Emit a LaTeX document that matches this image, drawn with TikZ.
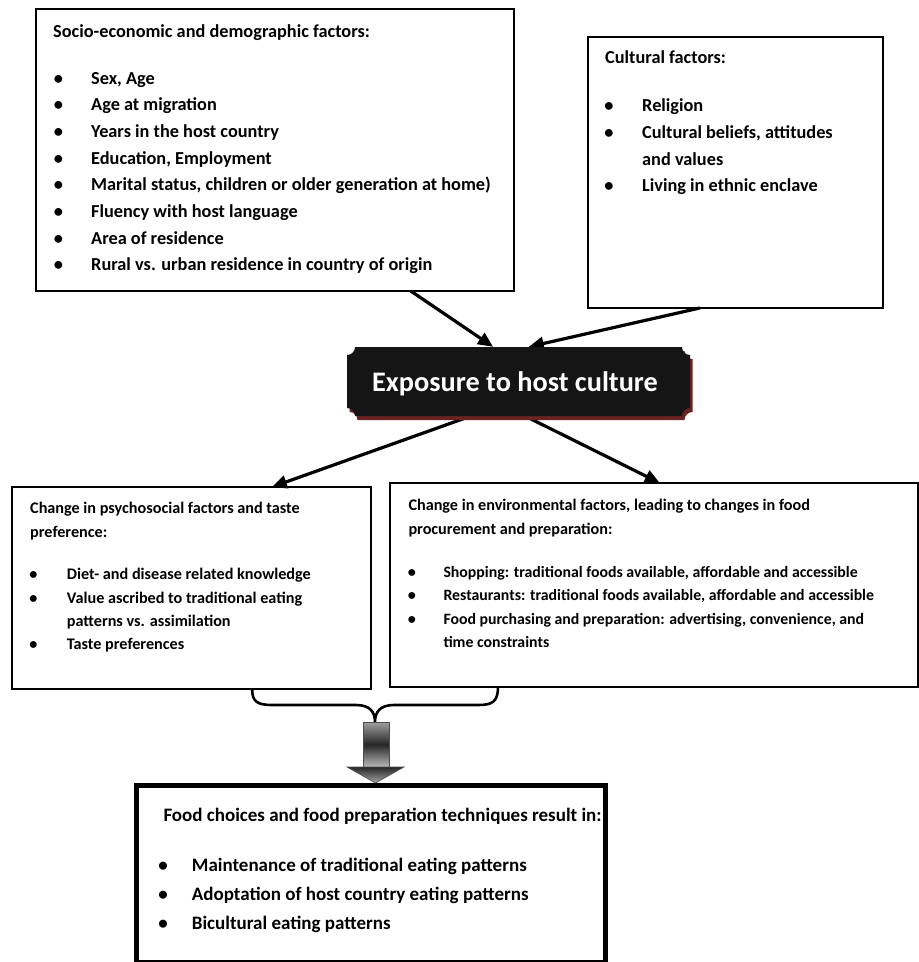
\documentclass[tikz,border=0pt]{standalone}
\usepackage{fontspec}
\setmainfont{Carlito}
\usetikzlibrary{arrows.meta,calc}
\definecolor{plaque}{HTML}{151515}
\definecolor{plaqueshadow}{HTML}{6A2222}
\begin{document}
\begin{tikzpicture}[x=1pt,y=-1pt,
  box/.style={draw=black, line width=2.6pt, inner sep=0pt, outer sep=0pt, anchor=north west},
  tA/.style={anchor=base west, inner sep=0pt, font=\fontsize{18.3}{22}\selectfont\bfseries},
  tC/.style={anchor=base west, inner sep=0pt, font=\fontsize{16.2}{20}\selectfont\bfseries},
  tD/.style={anchor=base west, inner sep=0pt, font=\fontsize{15.8}{20}\selectfont\bfseries},
  tE/.style={anchor=base west, inner sep=0pt, font=\fontsize{19}{23}\selectfont\bfseries},
  bA/.style={anchor=base, inner sep=0pt, font=\fontsize{18.3}{22}\selectfont\bfseries},
  bC/.style={anchor=base, inner sep=0pt, font=\fontsize{16.2}{20}\selectfont\bfseries},
  bE/.style={anchor=base, inner sep=0pt, font=\fontsize{19}{23}\selectfont\bfseries},
  arr/.style={line width=3.2pt, -{Triangle[length=15pt,width=13pt]}},
]
\useasboundingbox (0,0) rectangle (919,962);

% boxes
\node[box, minimum width=478pt, minimum height=282pt] (socio) at (36,9) {};
\node[box, minimum width=295pt, minimum height=271pt] (cult) at (588,37) {};
\node[box, minimum width=359pt, minimum height=202pt] (psych) at (12,487) {};
\node[box, minimum width=528pt, minimum height=204pt] (envir) at (390,483) {};
\node[box, line width=5pt, minimum width=469pt, minimum height=177pt] (food) at (136,785) {};

% box A text
\node[tA] (atitle) at (53,37) {Socio-economic and demographic factors:};
\foreach \t [count=\i from 0] in {{Sex, Age},{Age at migration},{Years in the host country},{Education, Employment},{Marital status, children or older generation at home)},{Fluency with host language},{Area of residence},{Rural vs. urban residence in country of origin}}{
  \node[bA] (abul\i) at (58.5,84+26.67*\i) {•};
  \node[tA] (aitem\i) at (91,84+26.67*\i) {\t};
}

% box B text
\node[tA] (btitle) at (605,63.3) {Cultural factors:};
\node[bA] (bbul0) at (609,111.7) {•};
\node[tA] (bitem0) at (642,111.7) {Religion};
\node[bA] (bbul1) at (609,138.3) {•};
\node[tA] (bitem1) at (642,138.3) {Cultural beliefs, attitudes};
\node[tA] (bitem1b) at (642,165) {and values};
\node[bA] (bbul2) at (609,191.7) {•};
\node[tA] (bitem2) at (642,191.7) {Living in ethnic enclave};

% box C text
\node[tC] (ctitle) at (30,513.3) {Change in psychosocial factors and taste};
\node[tC] (ctitleb) at (30,537.3) {preference:};
\node[bC] (cbul0) at (33.5,579.3) {•};
\node[tC] (citem0) at (66.7,579.3) {Diet- and disease related knowledge};
\node[bC] (cbul1) at (33.5,603) {•};
\node[tC] (citem1) at (66.7,603) {Value ascribed to traditional eating};
\node[tC] (citem1b) at (66.7,626.3) {patterns vs. assimilation};
\node[bC] (cbul2) at (33.5,649.5) {•};
\node[tC] (citem2) at (66.7,649.5) {Taste preferences};

% box D text
\node[tC] (dtitle) at (408.3,510) {Change in environmental factors, leading to changes in food};
\node[tC] (dtitleb) at (408.3,534.3) {procurement and preparation:};
\node[bC] (dbul0) at (412,577.3) {•};
\node[tD] (ditem0) at (443.3,577.3) {Shopping: traditional foods available, affordable and accessible};
\node[bC] (dbul1) at (412,600.7) {•};
\node[tD] (ditem1) at (443.3,600.7) {Restaurants: traditional foods available, affordable and accessible};
\node[bC] (dbul2) at (412,624) {•};
\node[tD] (ditem2) at (443.3,624) {Food purchasing and preparation: advertising, convenience, and};
\node[tD] (ditem2b) at (443.3,647) {time constraints};

% box E text
\node[tE] (etitle) at (163.3,821.7) {Food choices and food preparation techniques result in:};
\node[bE] (ebul0) at (163,871.7) {•};
\node[tE] (eitem0) at (191.7,871.7) {Maintenance of traditional eating patterns};
\node[bE] (ebul1) at (163,900.5) {•};
\node[tE] (eitem1) at (191.7,900.5) {Adoptation of host country eating patterns};
\node[bE] (ebul2) at (163,929) {•};
\node[tE] (eitem2) at (191.7,929) {Bicultural eating patterns};

% plaque node (shape drawn below)
\node[inner sep=0pt, minimum width=343pt, minimum height=69pt] (expo) at (518.5,381.5) {};

% connectors (drawn before plaque so plaque sits on top)
\draw[arr] ($(socio.south west)!0.784!(socio.south east)$) -- ($(expo.north west)!0.426!(expo.north east)$);
\draw[arr] ($(cult.south west)!0.379!(cult.south east)$) -- ($(expo.north west)!0.53!(expo.north east)$);
\draw[arr] ($(expo.south west)!0.36!(expo.south east)$) -- ($(psych.north west)!0.724!(psych.north east)$);
\draw[arr] ($(expo.south west)!0.52!(expo.south east)$) -- ($(envir.north west)!0.511!(envir.north east)$);

% plaque shape
\def\r{8}
\foreach \dx/\dy/\col in {2.5/4/plaqueshadow, 0/0/plaque}{
\fill[\col, shift={(\dx pt,-\dy pt)}]
  (347+\r,347) -- (690-\r,347)
  .. controls (690-\r,347+0.55*\r) and (690-0.55*\r,347+\r) .. (690,347+\r)
  -- (690,416-\r)
  .. controls (690-0.55*\r,416-\r) and (690-\r,416-0.55*\r) .. (690-\r,416)
  -- (347+\r,416)
  .. controls (347+\r,416-0.55*\r) and (347+0.55*\r,416-\r) .. (347,416-\r)
  -- (347,347+\r)
  .. controls (347+0.55*\r,347+\r) and (347+\r,347+0.55*\r) .. (347+\r,347) -- cycle;
}
\node[anchor=base, inner sep=0pt, text=white, font=\fontsize{28.3}{34}\selectfont\bfseries] (expotext) at (515,391) {Exposure to host culture};

% brace joining the two change boxes
\coordinate (bl) at ($(psych.south west)!0.669!(psych.south east)$);
\coordinate (br) at ($(envir.south west)!0.2045!(envir.south east)$);
\coordinate (btip) at (375,722);
\draw[line width=2.6pt]
  (bl) .. controls (252,702) and (258,705) .. (272,705) -- (356,705)
  .. controls (370,705) and (375,712) .. (btip)
  .. controls (375,712) and (380,705) .. (394,705) -- (478,705)
  .. controls (492,705) and (498,702) .. (br);

% block arrow
\shade[top color=gray!75, bottom color=gray!55, middle color=black!85, draw=black!70, line width=0.6pt]
  (363,722) rectangle (389,767);
\shade[top color=black!85, bottom color=gray!70, draw=black!70, line width=0.6pt]
  (347,767) -- (404,767) -- (375.5,783) -- cycle;
\end{tikzpicture}
\end{document}
